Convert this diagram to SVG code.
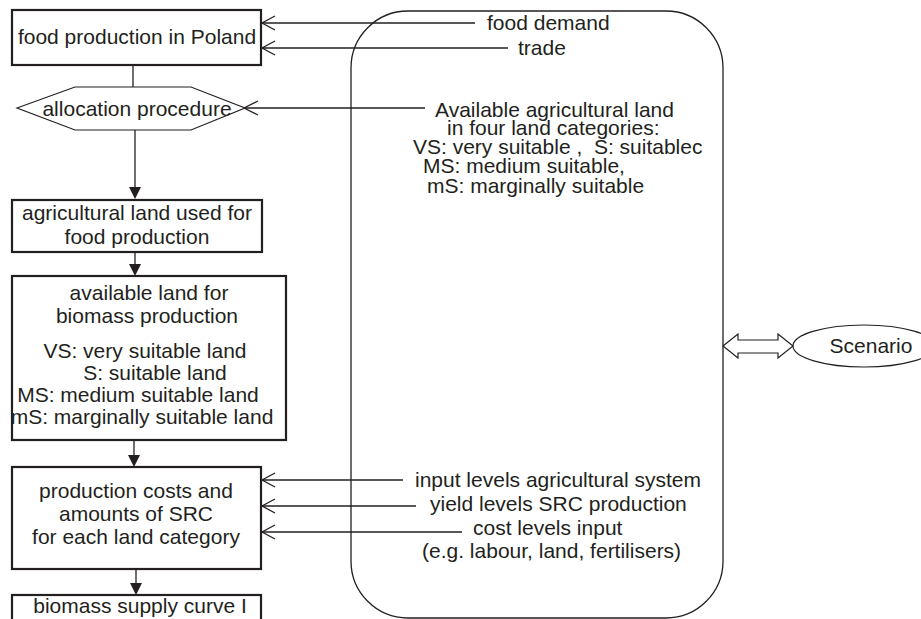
<svg xmlns="http://www.w3.org/2000/svg" width="921" height="619" viewBox="0 0 921 619">
<defs>
<style>
text{font-family:"Liberation Sans",Arial,sans-serif;font-size:21px;fill:#231f20}
.m{text-anchor:middle}
.box{fill:#fff;stroke:#231f20;stroke-width:2.2}
.ln{fill:none;stroke:#231f20;stroke-width:1.3}
.open{fill:none;stroke:#231f20;stroke-width:1.3}
.head{fill:#231f20;stroke:none}
</style>
</defs>
<rect width="921" height="619" fill="#fff"/>

<g id="scenario-frame">
<rect x="351" y="11" width="372" height="607" rx="57" ry="57" fill="none" stroke="#231f20" stroke-width="1.3"/>
</g>

<g id="connectors">
<!-- food production -> allocation -->
<line class="ln" x1="133" y1="65" x2="133" y2="87"/>
<!-- allocation -> agricultural land -->
<line class="ln" x1="135" y1="130" x2="135" y2="188"/>
<polygon class="head" points="129,187 141,187 135,199"/>
<!-- agricultural land -> available land -->
<line class="ln" x1="135" y1="252" x2="135" y2="265"/>
<polygon class="head" points="129,264 141,264 135,276"/>
<!-- available land -> production costs -->
<line class="ln" x1="134" y1="440" x2="134" y2="456"/>
<polygon class="head" points="128,455 140,455 134,467"/>
<!-- production costs -> supply curve -->
<line class="ln" x1="136" y1="569" x2="136" y2="584"/>
<polygon class="head" points="130,583 142,583 136,595"/>
<!-- food demand -->
<line class="ln" x1="262" y1="23" x2="475" y2="23"/>
<polyline class="open" points="275,16 262,23 275,30"/>
<!-- trade -->
<line class="ln" x1="262" y1="48" x2="508" y2="48"/>
<polyline class="open" points="275,41 262,48 275,55"/>
<!-- available agricultural land -->
<line class="ln" x1="244" y1="108" x2="425" y2="108"/>
<polyline class="open" points="258,101 244,108 258,115"/>
<!-- input levels -->
<line class="ln" x1="262" y1="480" x2="403" y2="480"/>
<polyline class="open" points="275,473 262,480 275,487"/>
<!-- yield levels -->
<line class="ln" x1="262" y1="506" x2="416" y2="506"/>
<polyline class="open" points="275,499 262,506 275,513"/>
<!-- cost levels -->
<line class="ln" x1="262" y1="532" x2="462" y2="532"/>
<polyline class="open" points="275,525 262,532 275,539"/>
<!-- double arrow scenario -->
<polygon points="723,346 738,334 738,340 778,340 778,334 793,346 778,358 778,353 738,353 738,358" fill="#fff" stroke="#231f20" stroke-width="1.2"/>
</g>

<g id="food-production">
<rect class="box" x="12" y="10" width="249" height="55" stroke-width="2.8"/>
<text class="m" x="137" y="44">food production in Poland</text>
</g>

<g id="allocation">
<polygon points="17,108 75,87 191,87 245,108 191,130 75,130" fill="#fff" stroke="#231f20" stroke-width="1.2"/>
<text class="m" x="137" y="116">allocation procedure</text>
</g>

<g id="agri-land">
<rect class="box" x="12" y="200" width="250" height="52"/>
<text class="m" x="137" y="220">agricultural land used for</text>
<text class="m" x="137" y="244">food production</text>
</g>

<g id="available-land">
<rect class="box" x="12" y="276" width="274" height="164"/>
<text class="m" x="149" y="300">available land for</text>
<text class="m" x="147" y="323">biomass production</text>
<text class="m" x="145" y="358">VS: very suitable land</text>
<text class="m" x="155" y="380">S: suitable land</text>
<text class="m" x="138" y="402">MS: medium suitable land</text>
<text class="m" x="142" y="424">mS: marginally suitable land</text>
</g>

<g id="production-costs">
<rect class="box" x="12" y="467" width="249" height="102"/>
<text class="m" x="136" y="498">production costs and</text>
<text class="m" x="136" y="521">amounts of SRC</text>
<text class="m" x="136" y="544">for each land category</text>
</g>

<g id="supply-curve">
<rect class="box" x="12" y="595" width="249" height="40"/>
<text class="m" x="140" y="613">biomass supply curve I</text>
</g>

<g id="scenario-texts">
<text x="487" y="30">food demand</text>
<text x="518" y="55">trade</text>
<text x="435" y="117">Available agricultural land</text>
<text x="447" y="135">in four land categories:</text>
<text x="413" y="154" style="white-space:pre">VS: very suitable ,  S: suitablec</text>
<text x="423" y="173">MS: medium suitable,</text>
<text x="427" y="193">mS: marginally suitable</text>
<text x="415" y="487">input levels agricultural system</text>
<text x="430" y="511">yield levels SRC production</text>
<text x="473" y="535">cost levels input</text>
<text x="422" y="558">(e.g. labour, land, fertilisers)</text>
</g>

<g id="scenario">
<ellipse cx="864" cy="346" rx="71" ry="21" fill="#fff" stroke="#231f20" stroke-width="1.2"/>
<text class="m" x="871" y="353">Scenario</text>
</g>
</svg>
